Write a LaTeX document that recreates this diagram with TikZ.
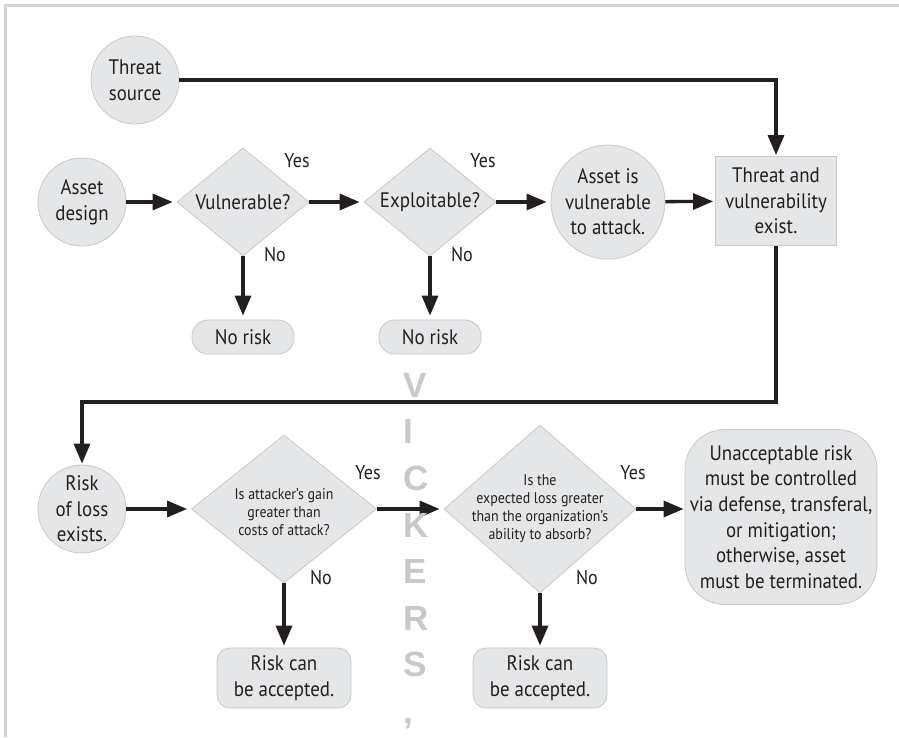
\documentclass[tikz,border=0pt]{standalone}
\usepackage{fontspec}
\setmainfont{PT Sans}[FakeStretch=0.9]
\newfontfamily\wmfont{Liberation Sans}
\usetikzlibrary{shapes.geometric,arrows.meta}
\definecolor{nodefill}{RGB}{229,230,231}
\definecolor{nodeline}{RGB}{200,200,200}
\definecolor{arrowc}{RGB}{35,31,32}
\definecolor{framec}{RGB}{212,212,212}
\definecolor{wmc}{RGB}{200,200,200}
\newcommand\mainsz{\fontsize{21}{25.6}\selectfont}
\newcommand\smallsz{\fontsize{15.5}{18}\selectfont}
\newcommand\lblsz{\fontsize{20}{22}\selectfont}
\begin{document}
\begin{tikzpicture}[x=1pt,y=-1pt,
  shapebase/.style={draw=nodeline,fill=nodefill,line width=0.8pt,inner sep=0pt,align=center,font=\mainsz,text=arrowc},
  circ/.style={shapebase,circle},
  dia/.style={shapebase,diamond},
  sqbox/.style={shapebase,rectangle},
  rbox/.style={shapebase,rectangle,rounded corners=#1},
  lbl/.style={font=\lblsz,inner sep=0pt,text=arrowc},
  flow/.style={draw=arrowc,line width=3.3pt,-{Triangle[length=20pt,width=16pt]},shorten >=4pt},
]
\useasboundingbox (0,0) rectangle (899,737);
\fill[white] (0,0) rectangle (899,737);
\draw[framec,line width=3pt] (5,737) -- (5,5) -- (899,5);

% top part
\node[circ,minimum size=88pt] (ts) at (135,80) {Threat\\source};
\node[circ,minimum size=88pt] (ad) at (82,202) {Asset\\design};
\node[dia,minimum width=132pt,minimum height=108pt,label={[font=\mainsz,text=arrowc]center:Vulnerable?}] (v1) at (243,202) {};
\node[dia,minimum width=132pt,minimum height=108pt,label={[font=\mainsz,text=arrowc]center:Exploitable?}] (v2) at (430,202) {};
\node[circ,minimum size=114pt] (aiv) at (608,202) {Asset is\\vulnerable\\to attack.};
\node[sqbox,minimum width=121pt,minimum height=89pt] (tvb) at (776,201) {Threat and\\vulnerability\\exist.};
\node[rbox=16pt,minimum width=102pt,minimum height=34pt] (nr1) at (243,337) {No risk};
\node[rbox=16pt,minimum width=102pt,minimum height=34pt] (nr2) at (430,337) {No risk};

\node[lbl] (y1) at (297,161) {Yes};
\node[lbl] (n1) at (275,255) {No};
\node[lbl] (y2) at (483,161) {Yes};
\node[lbl] (n2) at (462,255) {No};

% bottom part
\node[circ,minimum size=88pt] (rl) at (82,509) {Risk\\of loss\\exists.};
\node[dia,minimum width=185pt,minimum height=148pt,label={[font=\smallsz,align=center,text=arrowc,yshift=-3pt]center:Is attacker’s gain\\greater than\\costs of attack?}] (d3) at (284,509) {};
\node[dia,minimum width=192pt,minimum height=168pt,label={[font=\smallsz,align=center,text=arrowc]center:Is the\\expected loss greater\\than the organization’s\\ability to absorb?}] (d4) at (540,509) {};
\node[rbox=40pt,minimum width=192pt,minimum height=175pt] (fin) at (781,517) {Unacceptable risk\\must be controlled\\via defense, transferal,\\or mitigation;\\otherwise, asset\\must be terminated.};
\node[rbox=13pt,minimum width=134pt,minimum height=60pt] (ra1) at (284,678) {Risk can\\be accepted.};
\node[rbox=13pt,minimum width=134pt,minimum height=60pt] (ra2) at (540,678) {Risk can\\be accepted.};

\node[lbl] (y3) at (368,473) {Yes};
\node[lbl] (n3) at (321,577) {No};
\node[lbl] (y4) at (633,473) {Yes};
\node[lbl] (n4) at (587,577) {No};

\coordinate (bend) at (82,402);

% connectors
\draw[flow,shorten >=1pt] (ts) -| (tvb);
\draw[flow] (ad) -- (v1);
\draw[flow] (v1) -- (v2);
\draw[flow] (v2) -- (aiv);
\draw[flow,shorten >=2pt] (aiv) -- (tvb);
\draw[flow] (v1) -- (nr1);
\draw[flow] (v2) -- (nr2);
\draw[flow,shorten >=1pt] (tvb) |- (bend) -- (rl);
\draw[flow] (rl) -- (d3);
\draw[flow] (d3) -- (d4);
\draw[flow,shorten >=1pt] (d4) -- (d4 -| fin.west);
\draw[flow,shorten >=2pt] (d3) -- (ra1);
\draw[flow,shorten >=2pt] (d4) -- (ra2);

% watermark
\node[font=\wmfont\bfseries\fontsize{35}{46.6}\selectfont,text=wmc,anchor=north west,inner sep=0pt,align=left] (wm) at (403,373) {V\\I\\C\\K\\E\\R\\S\\,};
\end{tikzpicture}
\end{document}
